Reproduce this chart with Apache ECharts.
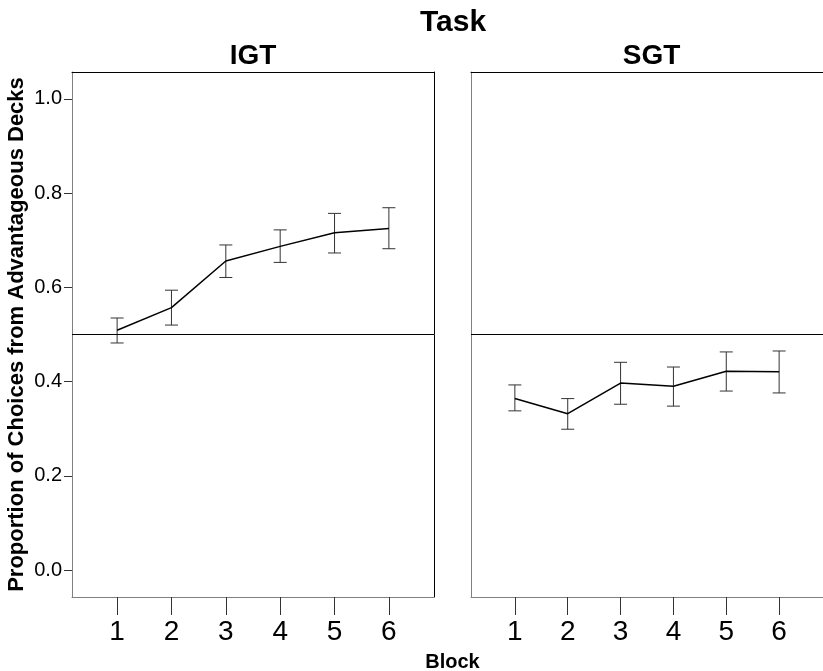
<!DOCTYPE html>
<html>
<head>
<meta charset="utf-8">
<script src="https://cdn.jsdelivr.net/npm/echarts@6/dist/echarts.min.js"></script>
<style>html,body{margin:0;padding:0;background:#fff}#c{width:823px;height:671px}</style>
</head>
<body>
<div id="c"></div>
<script>
const blocks = [1, 2, 3, 4, 5, 6];
const igtMean  = [0.509, 0.557, 0.656, 0.687, 0.716, 0.725];
const igtLower = [0.482, 0.520, 0.621, 0.653, 0.673, 0.682];
const igtUpper = [0.535, 0.594, 0.690, 0.722, 0.757, 0.769];
const sgtMean  = [0.364, 0.332, 0.397, 0.390, 0.422, 0.421];
const sgtLower = [0.338, 0.299, 0.352, 0.348, 0.380, 0.376];
const sgtUpper = [0.393, 0.364, 0.441, 0.431, 0.463, 0.465];
const yTicks = [0, 0.2, 0.4, 0.6, 0.8, 1.0];
const panelTitles = ['IGT', 'SGT'];
const mainTitle = 'Task';
const xTitle = 'Block';
const yTitle = 'Proportion of Choices from Advantageous Decks';
const refValue = 0.5;

const FONT = '"Liberation Sans", Arial, sans-serif';
const chart = echarts.init(document.getElementById('c'), null, {renderer: 'canvas'});

const grids = [
  {left: 72, top: 72, width: 362, height: 525},
  {left: 471, top: 72, width: 362, height: 525}
];

function bottomAxis(i) {
  return {
    type: 'value', gridIndex: i, min: 0.17, max: 6.83, position: 'bottom',
    axisLine: {show: true, onZero: false, lineStyle: {color: '#808080', width: 1}},
    axisTick: {show: true, length: 18, customValues: blocks, lineStyle: {color: '#333', width: 1}},
    axisLabel: {show: true, customValues: blocks, margin: 21, fontSize: 28, color: '#000', fontFamily: FONT},
    splitLine: {show: false}
  };
}
function topAxis(i) {
  return {
    type: 'value', gridIndex: i, min: 0.17, max: 6.83, position: 'top',
    axisLine: {show: true, onZero: false, lineStyle: {color: '#000', width: 1}},
    axisTick: {show: false}, axisLabel: {show: false}, splitLine: {show: false}
  };
}
function leftAxis(i, labels) {
  return {
    type: 'value', gridIndex: i, min: -0.057, max: 1.057, position: 'left',
    axisLine: {show: true, onZero: false, lineStyle: {color: '#808080', width: 1}},
    axisTick: {show: labels, length: 8, customValues: yTicks, lineStyle: {color: '#333', width: 1}},
    axisLabel: {show: labels, customValues: yTicks, margin: 10, fontSize: 20, color: '#000', fontFamily: FONT,
      formatter: v => v.toFixed(1)},
    splitLine: {show: false}
  };
}
function rightAxis(i) {
  return {
    type: 'value', gridIndex: i, min: -0.057, max: 1.057, position: 'right',
    axisLine: {show: true, onZero: false, lineStyle: {color: '#000', width: 1}},
    axisTick: {show: false}, axisLabel: {show: false}, splitLine: {show: false}
  };
}

function errData(lower, upper) {
  return blocks.map((b, k) => [b, lower[k], upper[k]]);
}
function renderErr(params, api) {
  const x = api.value(0);
  const pLo = api.coord([x, api.value(1)]);
  const pHi = api.coord([x, api.value(2)]);
  const w = 6.5;
  const st = {stroke: '#333', lineWidth: 1};
  return {
    type: 'group',
    children: [
      {type: 'line', shape: {x1: pLo[0], y1: pLo[1], x2: pHi[0], y2: pHi[1]}, style: st},
      {type: 'line', shape: {x1: pLo[0] - w, y1: pLo[1], x2: pLo[0] + w, y2: pLo[1]}, style: st},
      {type: 'line', shape: {x1: pHi[0] - w, y1: pHi[1], x2: pHi[0] + w, y2: pHi[1]}, style: st}
    ]
  };
}

function lineSeries(i, mean) {
  return {
    type: 'line', xAxisIndex: i * 2, yAxisIndex: i * 2,
    data: blocks.map((b, k) => [b, mean[k]]),
    showSymbol: false, silent: true, animation: false,
    lineStyle: {color: '#000', width: 1.5},
    markLine: {
      silent: true, symbol: ['none', 'none'], label: {show: false}, animation: false,
      lineStyle: {color: '#000', width: 1, type: 'solid'},
      data: [{yAxis: refValue}]
    },
    z: 3
  };
}
function errSeries(i, lower, upper) {
  return {
    type: 'custom', xAxisIndex: i * 2, yAxisIndex: i * 2,
    data: errData(lower, upper), renderItem: renderErr, silent: true, animation: false, z: 2
  };
}

const option = {
  backgroundColor: '#fff',
  animation: false,
  grid: grids,
  xAxis: [bottomAxis(0), topAxis(0), bottomAxis(1), topAxis(1)],
  yAxis: [leftAxis(0, true), rightAxis(0), leftAxis(1, false), rightAxis(1)],
  series: [
    errSeries(0, igtLower, igtUpper),
    lineSeries(0, igtMean),
    errSeries(1, sgtLower, sgtUpper),
    lineSeries(1, sgtMean)
  ],
  graphic: [
    {type: 'text', x: 453, y: 22.5, style: {text: mainTitle, font: 'bold 30px ' + FONT, fill: '#000', textAlign: 'center', textVerticalAlign: 'middle'}},
    {type: 'text', x: 253, y: 56.7, style: {text: panelTitles[0], font: 'bold 28px ' + FONT, fill: '#000', textAlign: 'center', textVerticalAlign: 'middle'}},
    {type: 'text', x: 651.5, y: 56.7, style: {text: panelTitles[1], font: 'bold 28px ' + FONT, fill: '#000', textAlign: 'center', textVerticalAlign: 'middle'}},
    {type: 'text', x: 452.5, y: 662, style: {text: xTitle, font: 'bold 20px ' + FONT, fill: '#000', textAlign: 'center', textVerticalAlign: 'middle'}},
    {type: 'text', x: 17, y: 334.5, rotation: Math.PI / 2, style: {text: yTitle, font: 'bold 22px ' + FONT, fill: '#000', textAlign: 'center', textVerticalAlign: 'middle'}}
  ]
};
chart.setOption(option);
</script>
</body>
</html>
